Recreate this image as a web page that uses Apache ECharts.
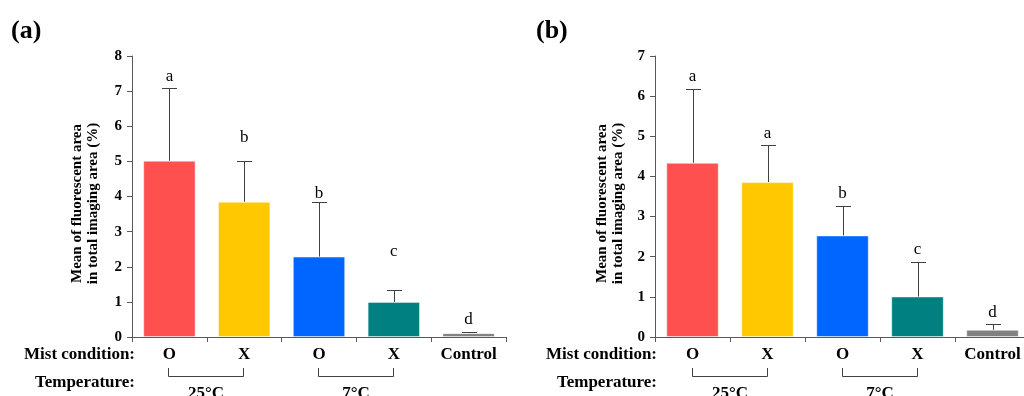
<!DOCTYPE html>
<html>
<head>
<meta charset="utf-8">
<script src="https://cdn.jsdelivr.net/npm/echarts@6/dist/echarts.min.js"></script>
<style>
html,body{margin:0;padding:0;background:#fff;}
#c{width:1024px;height:396px;}
</style>
</head>
<body>
<div id="c"></div>
<script>
// ---- data ----
const categories = ['O', 'X', 'O', 'X', 'Control'];
const meansA = [5.02, 3.85, 2.29, 1.00, 0.11];
const sdA = [2.08, 1.17, 1.56, 0.35, 0.03];
const lettersA = ['a', 'b', 'b', 'c', 'd'];
const letterLevelA = [7.41, 5.67, 4.09, 2.42, 0.51];
const meansB = [4.34, 3.86, 2.53, 1.01, 0.18];
const sdB = [1.83, 0.92, 0.74, 0.87, 0.14];
const lettersB = ['a', 'a', 'b', 'c', 'd'];
const letterLevelB = [6.48, 5.08, 3.57, 2.17, 0.62];
const yMaxA = 8, yMaxB = 7;
const yTitle = ['Mean of fluorescent area', 'in total imaging area (%)'];
const temperatureGroups = [{label: '25°C', from: 0, to: 1}, {label: '7°C', from: 2, to: 3}];
const panelLabels = ['(a)', '(b)'];

// ---- style ----
const barColors = ['#FF5050', '#FFC800', '#0066FF', '#008080', '#808080'];
const SERIF = '"Liberation Serif", "Times New Roman", serif';
const AXIS_COLOR = '#595959';

const chart = echarts.init(document.getElementById('c'), null, {renderer: 'canvas'});

function axesFor(idx, yMax) {
  return {
    x: {
      type: 'category', gridIndex: idx, data: categories,
      axisLine: {lineStyle: {color: AXIS_COLOR, width: 1}},
      axisTick: {show: true, length: 5, lineStyle: {color: AXIS_COLOR}},
      axisLabel: {margin: 9, color: '#000', fontFamily: SERIF, fontWeight: 'bold', fontSize: 17}
    },
    y: {
      type: 'value', gridIndex: idx, min: 0, max: yMax, interval: 1,
      splitLine: {show: false},
      axisLine: {show: true, lineStyle: {color: AXIS_COLOR, width: 1}},
      axisTick: {show: true, length: 5, lineStyle: {color: AXIS_COLOR}},
      axisLabel: {margin: 10, color: '#000', fontFamily: SERIF, fontWeight: 'bold', fontSize: 15}
    }
  };
}
const axA = axesFor(0, yMaxA), axB = axesFor(1, yMaxB);

function barSeries(idx, means) {
  return {
    type: 'bar', xAxisIndex: idx, yAxisIndex: idx,
    barCategoryGap: '30%',
    data: means.map((v, i) => ({value: v, itemStyle: {color: barColors[i]}})),
    itemStyle: {borderColor: 'rgba(255,255,255,0.45)', borderWidth: 1},
    z: 2
  };
}
function errSeries(idx, means, sds) {
  return {
    type: 'custom', xAxisIndex: idx, yAxisIndex: idx,
    data: means.map((m, i) => [i, m, m + sds[i]]),
    encode: {x: 0, y: [1, 2]},
    z: 3,
    renderItem: function (params, api) {
      const i = api.value(0);
      const p1 = api.coord([i, api.value(1)]);
      const p2 = api.coord([i, api.value(2)]);
      const x = Math.round(p1[0]) + 0.5;
      const yt = Math.round(p2[1]) + 0.5;
      return {
        type: 'group',
        children: [
          {type: 'line', shape: {x1: x, y1: p1[1], x2: x, y2: yt}, style: {stroke: '#404040', lineWidth: 1}},
          {type: 'line', shape: {x1: x - 7.5, y1: yt, x2: x + 7.5, y2: yt}, style: {stroke: '#404040', lineWidth: 1}}
        ]
      };
    }
  };
}
function letterSeries(idx, letters, levels) {
  return {
    type: 'custom', xAxisIndex: idx, yAxisIndex: idx,
    data: levels.map((v, i) => [i, v]),
    z: 4,
    renderItem: function (params, api) {
      const p = api.coord([api.value(0), api.value(1)]);
      return {
        type: 'text', x: p[0], y: p[1],
        style: {text: letters[params.dataIndex], align: 'center', verticalAlign: 'middle',
                font: '17px ' + SERIF, fill: '#000'}
      };
    }
  };
}

chart.setOption({
  animation: false,
  backgroundColor: '#fff',
  grid: [
    {left: 132, top: 56, width: 374, height: 281, outerBoundsMode: 'none', containLabel: false},
    {left: 655, top: 56, width: 375, height: 281, outerBoundsMode: 'none', containLabel: false}
  ],
  xAxis: [axA.x, axB.x],
  yAxis: [axA.y, axB.y],
  series: [
    barSeries(0, meansA), errSeries(0, meansA, sdA), letterSeries(0, lettersA, letterLevelA),
    barSeries(1, meansB), errSeries(1, meansB, sdB), letterSeries(1, lettersB, letterLevelB)
  ]
});

// ---- annotations (layout derived from the axes) ----
function annotations(idx, panelX, titleX, rowLabelRight) {
  const els = [];
  const bold17 = 'bold 17px ' + SERIF;
  els.push({type: 'text', x: panelX, y: 31,
    style: {text: panelLabels[idx], font: 'bold 26px ' + SERIF, fill: '#000', align: 'left', verticalAlign: 'middle'}});
  els.push({type: 'text', x: titleX, y: 203.5, rotation: Math.PI / 2,
    style: {text: yTitle.join('\n'), font: 'bold 15px ' + SERIF, lineHeight: 16.6, fill: '#000', align: 'center', verticalAlign: 'middle'}});
  els.push({type: 'text', x: rowLabelRight, y: 355,
    style: {text: 'Mist condition:', font: bold17, fill: '#000', align: 'right', verticalAlign: 'middle'}});
  els.push({type: 'text', x: rowLabelRight, y: 383,
    style: {text: 'Temperature:', font: bold17, fill: '#000', align: 'right', verticalAlign: 'middle'}});
  temperatureGroups.forEach(g => {
    const x1 = Math.round(chart.convertToPixel({xAxisIndex: idx}, g.from)) - 0.5;
    const x2 = Math.round(chart.convertToPixel({xAxisIndex: idx}, g.to)) - 0.5;
    const yTop = 368, yBot = 376.5;
    els.push({type: 'polyline', shape: {points: [[x1, yTop], [x1, yBot], [x2, yBot], [x2, yTop]]},
      style: {stroke: '#404040', lineWidth: 1, fill: null}});
    els.push({type: 'text', x: (x1 + x2) / 2, y: 394,
      style: {text: g.label, font: bold17, fill: '#000', align: 'center', verticalAlign: 'middle'}});
  });
  return els;
}
chart.setOption({
  graphic: annotations(0, 11, 85, 135).concat(annotations(1, 536, 610, 657))
});
</script>
</body>
</html>
